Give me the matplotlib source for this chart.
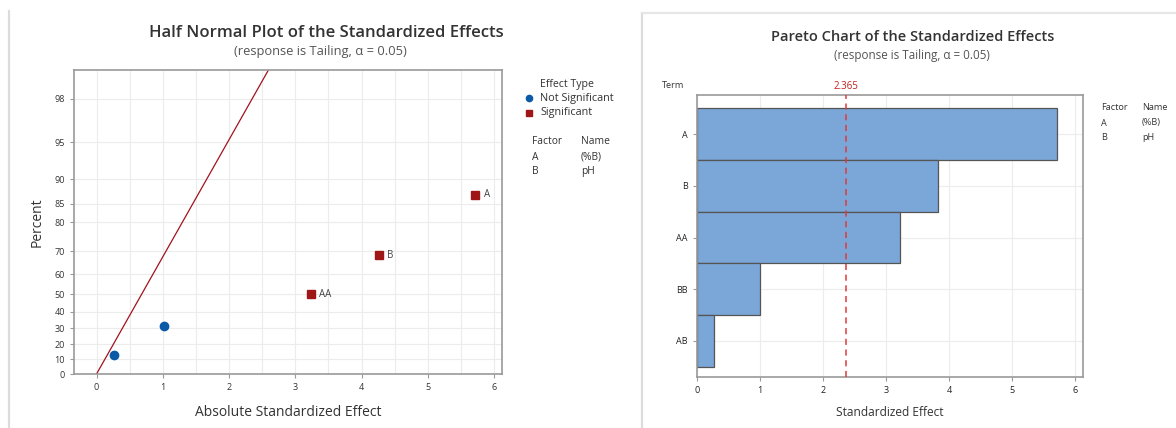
from statistics import NormalDist
import numpy as np
import matplotlib.pyplot as plt
from matplotlib.lines import Line2D

plt.rcParams["font.family"] = ["Open Sans", "DejaVu Sans"]

# values
terms = ["A", "B", "AA", "BB", "AB"]
abs_effects = [5.72, 4.26, 3.23, 1.02, 0.27]
half_normal_pct = [87.0, 68.5, 50.0, 31.5, 13.0]
significant = [True, True, True, False, False]
pareto_effects = [5.72, 3.83, 3.22, 1.00, 0.27]
critical_value = 2.365
ref_sigma = 1.01
pct_ticks = [0, 10, 20, 30, 40, 50, 60, 70, 80, 85, 90, 95, 98]
pct_top = 98.98
factors = ["A", "B"]
factor_names = ["(%B)", "pH"]

W, H = 1176, 428
TXT = "#333333"
SPINE = "#9a9a9a"
GRID = "#ececec"
BLUE = "#0a5aa8"
RED = "#9e1616"
nd = NormalDist()


def to_z(p):
    # half normal probability scale
    return nd.inv_cdf(0.5 + p / 200.0)


def px(x, y):
    return x / W, 1 - y / H


def style_axes(ax):
    for s in ax.spines.values():
        s.set_color(SPINE)
        s.set_linewidth(1.2)
    ax.tick_params(colors=SPINE, labelcolor=TXT, labelsize=6.5, length=3, width=0.8)
    ax.set_axisbelow(True)


fig = plt.figure(figsize=(W / 100, H / 100), dpi=100)

# panel frames
fig.add_artist(Line2D([9 / W, 9 / W], [0, 1 - 11 / H], color="#dcdcdc", lw=1.6))
fig.add_artist(Line2D([642 / W, 642 / W], [0, 1 - 13 / H], color="#dcdcdc", lw=1.6))
fig.add_artist(Line2D([642 / W, 1], [1 - 13 / H, 1 - 13 / H], color="#e6e6e6", lw=1.6))

# ---- half normal plot
ax1 = fig.add_axes([74 / W, 1 - 374 / H, 428 / W, 304 / H])
style_axes(ax1)
z_pts = [to_z(p) for p in half_normal_pct]
z_top = to_z(pct_top)
ax1.set_xlim(-0.34, 6.12)
ax1.set_ylim(0, z_top)
ax1.set_xticks(range(0, 7))
ax1.set_xticks(np.arange(-0.0, 6.01, 0.5), minor=True)
ax1.tick_params(axis="x", which="minor", length=0)
ax1.set_yticks([to_z(p) for p in pct_ticks])
ax1.set_yticklabels([str(p) for p in pct_ticks])
ax1.grid(which="both", color=GRID, lw=0.8)

ax1.plot([0, ref_sigma * z_top], [0, z_top], color="#a3121e", lw=0.9, zorder=2)
for x, z, sig, t in zip(abs_effects, z_pts, significant, terms):
    if sig:
        ax1.plot(x, z, "s", color=RED, ms=6, zorder=3)
        ax1.annotate(t, (x, z), xytext=(6, 0), textcoords="offset points",
                     va="center", fontsize=7, color="#444444")
    else:
        ax1.plot(x, z, "o", color=BLUE, ms=6, zorder=3)

ax1.set_xlabel("Absolute Standardized Effect", fontsize=10, color=TXT, labelpad=9)
ax1.set_ylabel("Percent", fontsize=10, color=TXT, labelpad=7)

fig.text(*px(326, 33), "Half Normal Plot of the Standardized Effects", ha="center",
         va="center", fontsize=12, fontweight="semibold", color=TXT)
fig.text(*px(320, 52), "(response is Tailing, \u03b1 = 0.05)", ha="center",
         va="center", fontsize=9.3, color="#555555")

# legend of the half normal plot
fig.text(*px(540, 84), "Effect Type", fontsize=7.6, color=TXT, va="center")
fig.add_artist(Line2D([529 / W], [1 - 98 / H], marker="o", color=BLUE, ms=4.5))
fig.text(*px(540, 98), "Not Significant", fontsize=7.8, color=TXT, va="center")
fig.add_artist(Line2D([529 / W], [1 - 113 / H], marker="s", color=RED, ms=4.5))
fig.text(*px(540, 113), "Significant", fontsize=7.8, color=TXT, va="center")
fig.text(*px(532, 142), "Factor", fontsize=7.4, color=TXT, va="center")
fig.text(*px(581, 142), "Name", fontsize=7.4, color=TXT, va="center")
for i, (f, n) in enumerate(zip(factors, factor_names)):
    fig.text(*px(532, 157 + 14.5 * i), f, fontsize=7.4, color=TXT, va="center")
    fig.text(*px(581, 157 + 14.5 * i), n, fontsize=7.4, color=TXT, va="center")

# ---- pareto chart
ax2 = fig.add_axes([697 / W, 1 - 377 / H, 386 / W, 282 / H])
style_axes(ax2)
ypos = np.arange(len(terms))
ax2.barh(ypos, pareto_effects, height=1.0, color="#7ba6d8", edgecolor="#555555",
         lw=0.9, zorder=2)
ax2.set_ylim(4.7, -0.76)
ax2.set_xlim(0, 6.13)
ax2.set_xticks(range(0, 7))
ax2.set_yticks(ypos)
ax2.set_yticklabels(terms)
ax2.tick_params(labelsize=6.5, labelcolor="#222222")
ax2.grid(color=GRID, lw=0.8)
ax2.axvline(critical_value, color="#e03a3a", lw=1.1, ls=(0, (4, 3)), zorder=3)
ax2.text(critical_value, 1.01, f"{critical_value:.3f}", transform=ax2.get_xaxis_transform(),
         ha="center", va="bottom", fontsize=7, color="#c42020")
ax2.set_xlabel("Standardized Effect", fontsize=8.6, color=TXT, labelpad=8)
fig.text(*px(662, 85), "Term", fontsize=6.6, color=TXT, va="center")

fig.text(*px(913, 37), "Pareto Chart of the Standardized Effects", ha="center",
         va="center", fontsize=10.5, fontweight="semibold", color=TXT)
fig.text(*px(912, 56), "(response is Tailing, \u03b1 = 0.05)", ha="center",
         va="center", fontsize=8.4, color="#555555")

fig.text(*px(1101, 108), "Factor", fontsize=6.6, color=TXT, va="center")
fig.text(*px(1142, 108), "Name", fontsize=6.6, color=TXT, va="center")
for i, (f, n) in enumerate(zip(factors, factor_names)):
    fig.text(*px(1101, 123 + 15 * i), f, fontsize=6.6, color=TXT, va="center")
    fig.text(*px(1142, 123 + 15 * i), n, fontsize=6.6, color=TXT, va="center")

fig.savefig("out.png", dpi=100)
